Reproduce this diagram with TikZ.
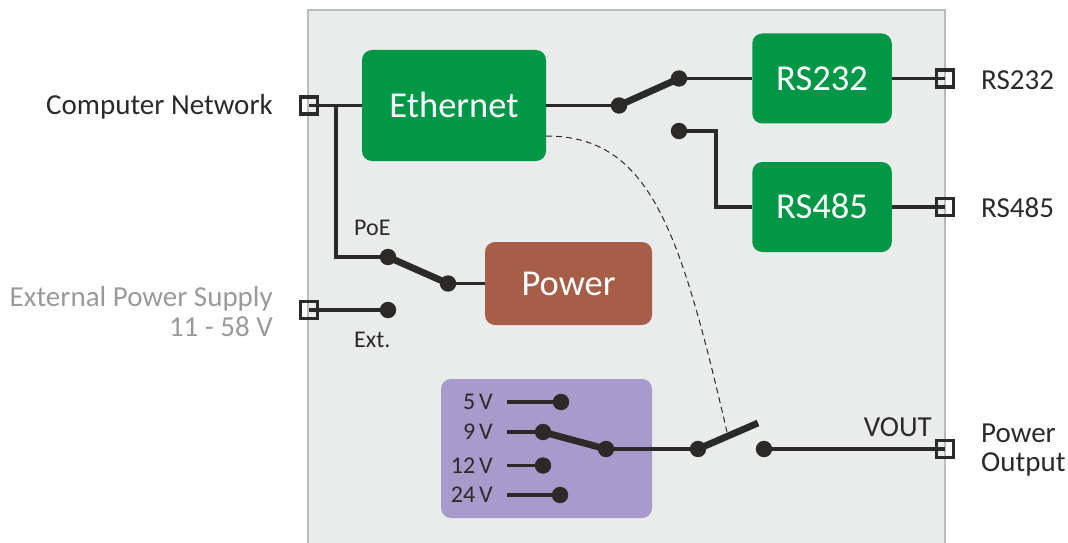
\documentclass[tikz,border=0pt]{standalone}
\usepackage{fontspec}
\setmainfont{Carlito}
\usetikzlibrary{arrows, positioning, shapes}
\definecolor{ink}{HTML}{2B2A29}
\definecolor{panelgray}{HTML}{EAECEB}
\definecolor{panelline}{HTML}{BBBDBC}
\definecolor{modgreen}{HTML}{009846}
\definecolor{modbrown}{HTML}{A65E48}
\definecolor{modviolet}{HTML}{A79BCB}
\definecolor{faded}{HTML}{9A9A9A}
\tikzstyle{panel} = [rectangle, minimum width=637pt, minimum height=560pt, fill=panelgray, draw=panelline, line width=2pt, inner sep=0pt]
\tikzstyle{module} = [rectangle, rounded corners=10pt, text=white, font=\fontsize{36.5}{40}\selectfont, inner sep=0pt, text height=23.5pt, text depth=0pt]
\tikzstyle{netbox} = [module, fill=modgreen, minimum width=139.5pt, minimum height=90pt]
\tikzstyle{contact} = [circle, fill=ink, minimum size=16.4pt, inner sep=0pt]
\tikzstyle{port} = [rectangle, draw=ink, line width=3.8pt, minimum size=17pt, inner sep=0pt]
\tikzstyle{wire} = [draw=ink, line width=3.7pt]
\tikzstyle{arm} = [draw=ink, line width=6.8pt]
\tikzstyle{linked} = [draw=ink, line width=1pt, dash pattern=on 6pt off 4pt]
\tikzstyle{caption} = [text=ink, font=\fontsize{29}{29.5}\selectfont, inner sep=0pt]
\tikzstyle{small} = [text=ink, font=\fontsize{24}{26}\selectfont, inner sep=0pt]
\begin{document}
\begin{tikzpicture}[x=1pt, y=1pt, node distance=100pt]
      \useasboundingbox (0,0) rectangle (1068,542);
      \node (box) [panel] at (626.5,252) {};

      \node (ethernet) [module, fill=modgreen, minimum width=184pt, minimum height=111pt] at (454,436.5) {Ethernet};
      \node (rs232) [netbox, right of=ethernet, xshift=268pt, yshift=27pt] {RS232};
      \node (rs485) [netbox, below of=rs232, yshift=-28.5pt] {RS485};
      \node (power) [module, fill=modbrown, minimum width=167pt, minimum height=83pt] at (568.5,258.5) {Power};
      \node (select) [module, fill=modviolet, minimum width=211pt, minimum height=139pt] at (546.5,93.5) {};

      \node (pnet) [port] at (309,436.5) {};
      \node (pext) [port] at (309,232) {};
      \node (p232) [port, right of=rs232, xshift=23pt] {};
      \node (p485) [port, right of=rs485, xshift=23pt] {};
      \node (pout) [port] at (945,93) {};

      \coordinate (tee) at (336,436.5);
      \coordinate (s485) at (716,411);
      \coordinate (armtip) at (758,119);
      \coordinate (start5) at (507,140);
      \coordinate (start9) at (507,110);
      \coordinate (start12) at (507,76.5);
      \coordinate (start24) at (507,47);

      \node (c1) [contact] at (619,436.5) {};
      \node (c2) [contact] at (679,463.5) {};
      \node (c3) [contact] at (679,411) {};
      \node (poe) [contact] at (388,285) {};
      \node (pwr) [contact] at (448,258.5) {};
      \node (ext) [contact] at (388,232) {};
      \node (v5) [contact] at (561,140) {};
      \node (v9) [contact] at (543,110) {};
      \node (v12) [contact] at (543,76.5) {};
      \node (v24) [contact] at (560,47) {};
      \node (vsel) [contact] at (606,93) {};
      \node (o1) [contact] at (698,93) {};
      \node (o2) [contact] at (764,93) {};

      \draw [wire] (pnet.center) -- (ethernet);
      \draw [wire] (tee) |- (poe.center);
      \draw [wire] (ethernet.east) -- (c1.center);
      \draw [arm] (c1.center) -- (c2.center);
      \draw [wire] (c2.center) -- (rs232);
      \draw [wire] (c3.center) -| (s485) |- (rs485);
      \draw [wire] (rs232) -- (p232.center);
      \draw [wire] (rs485) -- (p485.center);
      \draw [arm] (poe.center) -- (pwr.center);
      \draw [wire] (pwr.center) -- (power);
      \draw [wire] (pext.center) -- (ext.center);
      \draw [wire] (start5) -- (v5.center);
      \draw [wire] (start9) -- (v9.center);
      \draw [wire] (start12) -- (v12.center);
      \draw [wire] (start24) -- (v24.center);
      \draw [arm] (v9.center) -- (vsel.center);
      \draw [wire] (vsel.center) -- (o1.center);
      \draw [arm] (o1.center) -- (armtip);
      \draw [wire] (o2.center) -- (pout.center);
      \draw [linked] (ethernet.east |- 0,406) .. controls (650,406) and (680,312) .. (727,110);

      \node (lnet) [caption, anchor=east] at (273,435) {Computer Network};
      \node (lext) [caption, anchor=east, align=right, text=faded] at (273,230.5) {External Power Supply\\11 - 58 V};
      \node (l232) [caption, anchor=west] at (981,461.5) {RS232};
      \node (l485) [caption, anchor=west] at (981,334.5) {RS485};
      \node (lout) [caption, anchor=west, align=left] at (981,92) {Power\\Output};
      \node (lvout) [caption, anchor=east] at (932,115) {VOUT};
      \node (lpoe) [small, anchor=west] at (354,314) {PoE};
      \node (lextc) [small, anchor=west] at (354,202) {Ext.};
      \node (l5) [small, anchor=east] at (493,140) {5\,V};
      \node (l9) [small, anchor=east] at (493,110) {9\,V};
      \node (l12) [small, anchor=east] at (493,76.5) {12\,V};
      \node (l24) [small, anchor=east] at (493,47) {24\,V};
    \end{tikzpicture}
\end{document}
